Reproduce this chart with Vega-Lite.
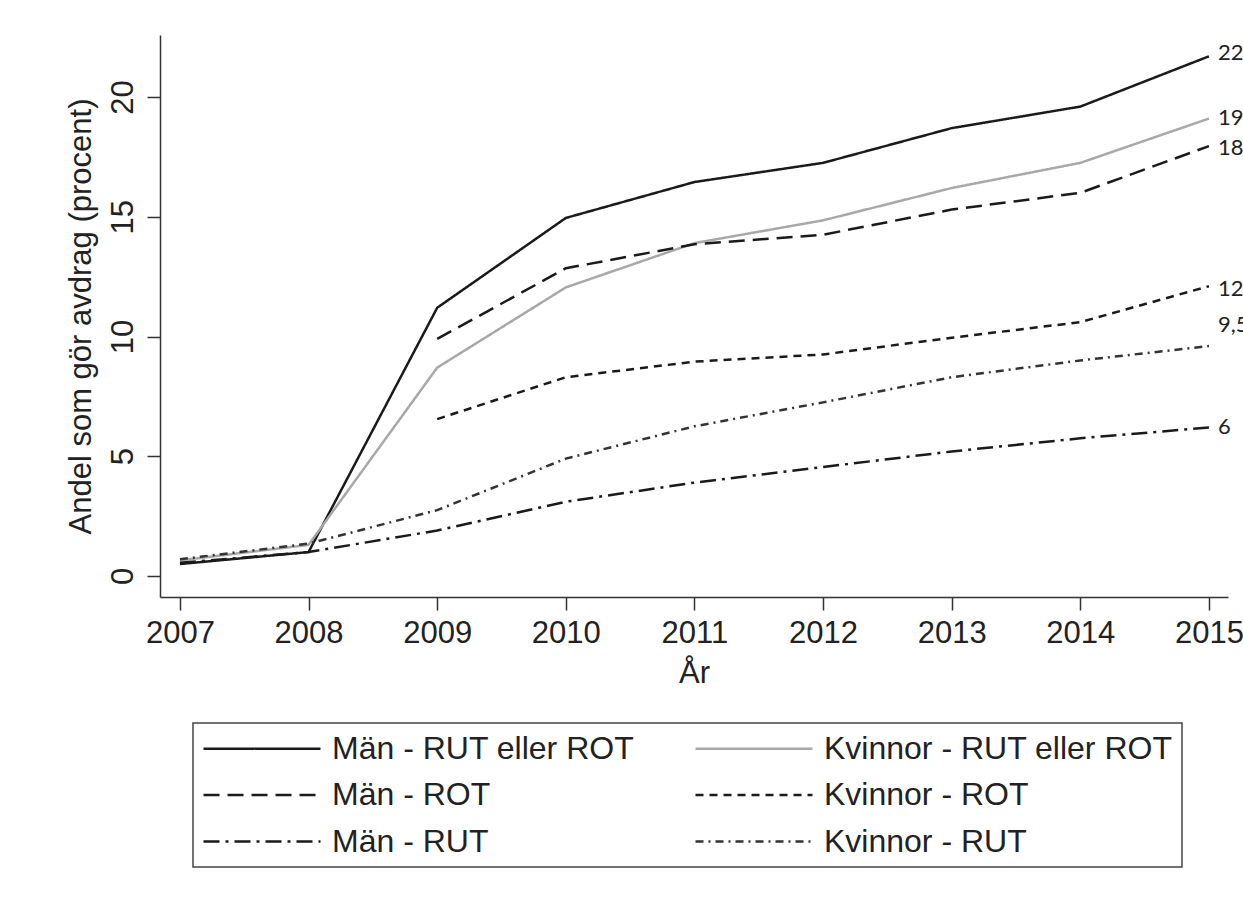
{
  "$schema": "https://vega.github.io/schema/vega-lite/v6.json",
  "width": 1068,
  "height": 562,
  "autosize": {"type": "none"},
  "padding": {"left": 160, "top": 35, "right": 15, "bottom": 308},
  "background": "white",
  "config": {
    "view": {"stroke": null},
    "font": "Liberation Sans",
    "axis": {
      "grid": false,
      "domainColor": "#333333",
      "domainWidth": 1.5,
      "tickColor": "#333333",
      "tickWidth": 1.5,
      "tickSize": 13,
      "labelFontSize": 31,
      "labelColor": "#222222",
      "titleFontSize": 31,
      "titleColor": "#222222",
      "titleFontWeight": "normal"
    },
    "legend": {
      "strokeColor": "#444444",
      "strokeWidth": 1.5,
      "padding": 9,
      "columns": 2,
      "columnPadding": 55,
      "rowPadding": 13.5,
      "symbolType": "M-1,0H6.8",
      "symbolSize": 900,
      "symbolStrokeWidth": 2.5,
      "labelFontSize": 32,
      "labelColor": "#222222",
      "labelOffset": 97,
      "labelLimit": 600
    }
  },
  "layer": [
    {
      "data": {
        "values": [
          {"series": "Män - RUT eller ROT", "year": 2007, "value": 0.5},
          {"series": "Män - RUT eller ROT", "year": 2008, "value": 1.0},
          {"series": "Män - RUT eller ROT", "year": 2009, "value": 11.2},
          {"series": "Män - RUT eller ROT", "year": 2010, "value": 14.95},
          {"series": "Män - RUT eller ROT", "year": 2011, "value": 16.45},
          {"series": "Män - RUT eller ROT", "year": 2012, "value": 17.25},
          {"series": "Män - RUT eller ROT", "year": 2013, "value": 18.7},
          {"series": "Män - RUT eller ROT", "year": 2014, "value": 19.6},
          {"series": "Män - RUT eller ROT", "year": 2015, "value": 21.7},
          {"series": "Kvinnor - RUT eller ROT", "year": 2007, "value": 0.65},
          {"series": "Kvinnor - RUT eller ROT", "year": 2008, "value": 1.3},
          {"series": "Kvinnor - RUT eller ROT", "year": 2009, "value": 8.7},
          {"series": "Kvinnor - RUT eller ROT", "year": 2010, "value": 12.05},
          {"series": "Kvinnor - RUT eller ROT", "year": 2011, "value": 13.9},
          {"series": "Kvinnor - RUT eller ROT", "year": 2012, "value": 14.85},
          {"series": "Kvinnor - RUT eller ROT", "year": 2013, "value": 16.2},
          {"series": "Kvinnor - RUT eller ROT", "year": 2014, "value": 17.25},
          {"series": "Kvinnor - RUT eller ROT", "year": 2015, "value": 19.1},
          {"series": "Män - ROT", "year": 2009, "value": 9.9},
          {"series": "Män - ROT", "year": 2010, "value": 12.85},
          {"series": "Män - ROT", "year": 2011, "value": 13.85},
          {"series": "Män - ROT", "year": 2012, "value": 14.25},
          {"series": "Män - ROT", "year": 2013, "value": 15.3},
          {"series": "Män - ROT", "year": 2014, "value": 16.0},
          {"series": "Män - ROT", "year": 2015, "value": 17.95},
          {"series": "Kvinnor - ROT", "year": 2009, "value": 6.55},
          {"series": "Kvinnor - ROT", "year": 2010, "value": 8.3},
          {"series": "Kvinnor - ROT", "year": 2011, "value": 8.95},
          {"series": "Kvinnor - ROT", "year": 2012, "value": 9.25},
          {"series": "Kvinnor - ROT", "year": 2013, "value": 9.95},
          {"series": "Kvinnor - ROT", "year": 2014, "value": 10.6},
          {"series": "Kvinnor - ROT", "year": 2015, "value": 12.1},
          {"series": "Män - RUT", "year": 2007, "value": 0.55},
          {"series": "Män - RUT", "year": 2008, "value": 1.0},
          {"series": "Män - RUT", "year": 2009, "value": 1.9},
          {"series": "Män - RUT", "year": 2010, "value": 3.1},
          {"series": "Män - RUT", "year": 2011, "value": 3.9},
          {"series": "Män - RUT", "year": 2012, "value": 4.55},
          {"series": "Män - RUT", "year": 2013, "value": 5.2},
          {"series": "Män - RUT", "year": 2014, "value": 5.75},
          {"series": "Män - RUT", "year": 2015, "value": 6.2},
          {"series": "Kvinnor - RUT", "year": 2007, "value": 0.7},
          {"series": "Kvinnor - RUT", "year": 2008, "value": 1.35},
          {"series": "Kvinnor - RUT", "year": 2009, "value": 2.75},
          {"series": "Kvinnor - RUT", "year": 2010, "value": 4.9},
          {"series": "Kvinnor - RUT", "year": 2011, "value": 6.25},
          {"series": "Kvinnor - RUT", "year": 2012, "value": 7.25},
          {"series": "Kvinnor - RUT", "year": 2013, "value": 8.3},
          {"series": "Kvinnor - RUT", "year": 2014, "value": 9.0},
          {"series": "Kvinnor - RUT", "year": 2015, "value": 9.6}
        ]
      },
      "mark": {"type": "line", "strokeWidth": 2.5},
      "encoding": {
        "x": {
          "field": "year",
          "type": "quantitative",
          "scale": {"domain": [2006.845, 2015.148], "nice": false, "zero": false},
          "axis": {
            "title": "År",
            "values": [2007, 2008, 2009, 2010, 2011, 2012, 2013, 2014, 2015],
            "format": "d",
            "labelPadding": 8,
            "labelFlush": false,
            "labelOverlap": false,
            "titleY": 85,
            "titleBaseline": "alphabetic"
          }
        },
        "y": {
          "field": "value",
          "type": "quantitative",
          "scale": {"domain": [-0.877, 22.589], "nice": false, "zero": false},
          "axis": {
            "title": "Andel som gör avdrag (procent)",
            "values": [0, 5, 10, 15, 20],
            "labelAngle": -90,
            "labelAlign": "center",
            "labelBaseline": "alphabetic",
            "labelPadding": 15,
            "labelFlush": false,
            "titleX": -70,
            "titleY": 281,
            "titleAlign": "center",
            "titleBaseline": "alphabetic"
          }
        },
        "color": {
          "field": "series",
          "type": "nominal",
          "scale": {
            "domain": ["Män - RUT eller ROT", "Män - ROT", "Män - RUT", "Kvinnor - RUT eller ROT", "Kvinnor - ROT", "Kvinnor - RUT"],
            "range": ["#1a1a1a", "#1a1a1a", "#1a1a1a", "#a8a8a8", "#1a1a1a", "#333333"]
          },
          "legend": {"title": null, "orient": "none", "legendX": 33, "legendY": 688, "columns": 2}
        },
        "strokeDash": {
          "field": "series",
          "type": "nominal",
          "scale": {
            "domain": ["Män - RUT eller ROT", "Män - ROT", "Män - RUT", "Kvinnor - RUT eller ROT", "Kvinnor - ROT", "Kvinnor - RUT"],
            "range": [[1, 0], [16, 8], [16, 6, 3, 6], [1, 0], [8, 6], [8, 5, 2, 5]]
          },
          "legend": {"title": null, "orient": "none", "legendX": 33, "legendY": 688, "columns": 2}
        }
      }
    },
    {
      "data": {
        "values": [
          {"label": "22", "year": 2015, "value": 21.85},
          {"label": "19", "year": 2015, "value": 19.12},
          {"label": "18", "year": 2015, "value": 17.87},
          {"label": "12", "year": 2015, "value": 11.98},
          {"label": "9,5", "year": 2015, "value": 10.48},
          {"label": "6", "year": 2015, "value": 6.22}
        ]
      },
      "mark": {"type": "text", "align": "left", "baseline": "middle", "dx": 9, "fontSize": 22, "font": "Lato", "color": "#222222"},
      "encoding": {
        "x": {"field": "year", "type": "quantitative"},
        "y": {"field": "value", "type": "quantitative"},
        "text": {"field": "label"}
      }
    }
  ]
}
